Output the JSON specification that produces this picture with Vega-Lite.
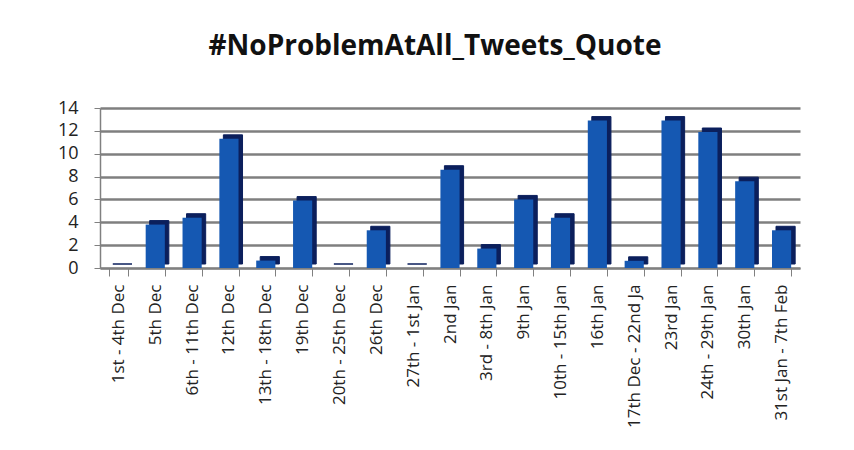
{
  "$schema": "https://vega.github.io/schema/vega-lite/v6.json",
  "autosize": {"type": "none"},
  "width": 700,
  "height": 160,
  "padding": {"left": 100, "top": 108, "right": 54, "bottom": 182},
  "background": "white",
  "title": {
    "text": "#NoProblemAtAll_Tweets_Quote",
    "font": "Open Sans",
    "fontSize": 28,
    "fontWeight": "bold",
    "color": "#111111",
    "anchor": "middle",
    "offset": 38,
    "dx": -15
  },
  "data": {
    "values": [
      {"period": "1st - 4th Dec", "tweets": 0},
      {"period": "5th Dec", "tweets": 3.8},
      {"period": "6th - 11th Dec", "tweets": 4.4},
      {"period": "12th Dec", "tweets": 11.3},
      {"period": "13th - 18th Dec", "tweets": 0.65},
      {"period": "19th Dec", "tweets": 5.9},
      {"period": "20th - 25th Dec", "tweets": 0},
      {"period": "26th Dec", "tweets": 3.3},
      {"period": "27th - 1st Jan", "tweets": 0},
      {"period": "2nd Jan", "tweets": 8.6},
      {"period": "3rd - 8th Jan", "tweets": 1.7},
      {"period": "9th Jan", "tweets": 6.0},
      {"period": "10th - 15th Jan", "tweets": 4.4},
      {"period": "16th Jan", "tweets": 12.9},
      {"period": "17th Dec - 22nd Ja", "tweets": 0.63},
      {"period": "23rd Jan", "tweets": 12.9},
      {"period": "24th - 29th Jan", "tweets": 11.9},
      {"period": "30th Jan", "tweets": 7.6},
      {"period": "31st Jan - 7th Feb", "tweets": 3.3}
    ]
  },
  "encoding": {
    "x": {
      "field": "period",
      "type": "nominal",
      "sort": null,
      "scale": {"paddingInner": 0.48, "paddingOuter": 0.24},
      "axis": {
        "title": null,
        "labelAngle": -90,
        "labelAlign": "right",
        "labelBaseline": "middle",
        "labelFont": "Open Sans",
        "labelFontSize": 17,
        "labelColor": "#222222",
        "labelPadding": 8,
        "labelLimit": 150,
        "domainColor": "#808080",
        "domainWidth": 1.5,
        "tickColor": "#808080",
        "tickSize": 8,
        "tickBand": "extent"
      }
    },
    "y": {
      "field": "tweets",
      "type": "quantitative",
      "scale": {"domain": [0, 14], "nice": false},
      "axis": {
        "title": null,
        "values": [0, 2, 4, 6, 8, 10, 12, 14],
        "labelFont": "Open Sans",
        "labelFontSize": 18,
        "labelColor": "#222222",
        "labelPadding": 16,
        "domainColor": "#808080",
        "domainWidth": 1.5,
        "tickColor": "#808080",
        "tickSize": 6,
        "gridColor": "#7f7f7f",
        "gridWidth": 2.5
      }
    }
  },
  "layer": [
    {
      "mark": {"type": "bar", "color": "#0b1f5c", "stroke": "#0b1f5c", "strokeWidth": 1, "xOffset": 4, "yOffset": -4, "y2Offset": -4}
    },
    {
      "mark": {"type": "bar", "color": "#1558b2"}
    }
  ],
  "config": {"view": {"stroke": null}}
}
